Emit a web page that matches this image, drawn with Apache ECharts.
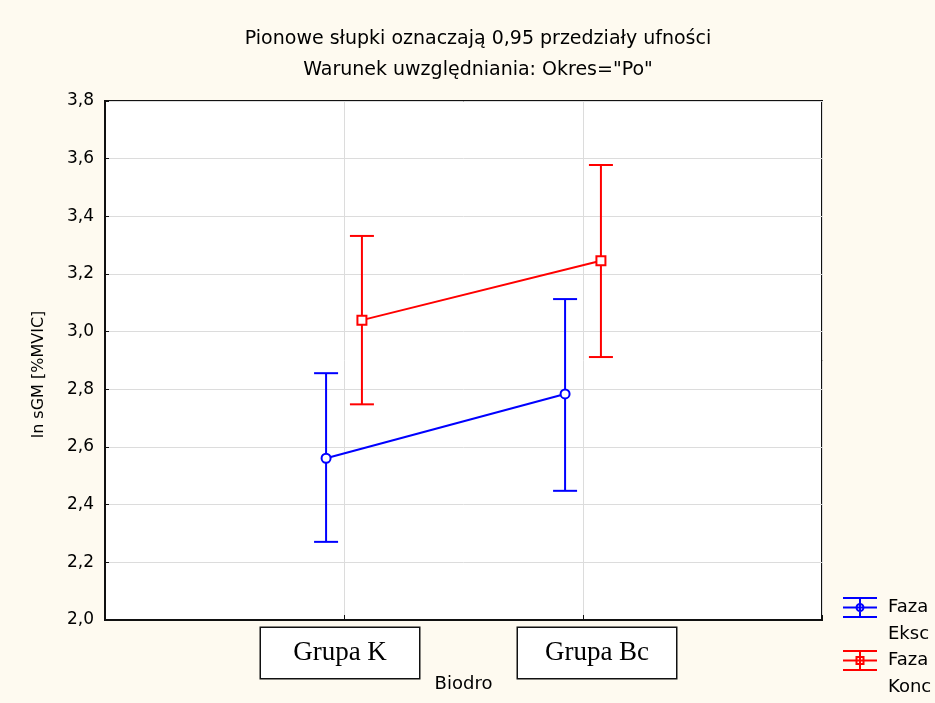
<!DOCTYPE html>
<html>
<head>
<meta charset="utf-8">
<script src="https://cdn.jsdelivr.net/npm/echarts@6/dist/echarts.min.js"></script>
<style>
html,body{margin:0;padding:0;background:#fefaf0;}
#chart{width:935px;height:703px;}
</style>
</head>
<body>
<div id="chart"></div>
<script>
// ---- data ----
const categories = ['Grupa K', 'Grupa Bc'];
const seriesNames = ['Faza\nEksc', 'Faza\nKonc'];
const eksMean = [2.561, 2.784];
const eksLow  = [2.271, 2.448];
const eksHigh = [2.856, 3.113];
const koncMean = [3.040, 3.246];
const koncLow  = [2.748, 2.912];
const koncHigh = [3.332, 3.578];
const yMin = 2.0, yMax = 3.8, yStep = 0.2;
const titleLines = ['Pionowe słupki oznaczają 0,95 przedziały ufności', 'Warunek uwzględniania: Okres="Po"'];
const xName = 'Biodro';
const yName = 'ln sGM [%MVIC]';

// ---- layout helpers ----
const OFFSET = 0.075;
const FONT = 'DejaVu Sans';
const BLUE = '#0000ff', RED = '#ff0000';

function pts(means, shift) { return means.map((v, i) => [i + 1 + shift, v]); }
function bars(lo, hi, shift) { return lo.map((v, i) => [i + 1 + shift, v, hi[i]]); }

function renderItem(params, api) {
  const x = api.value(0), lo = api.value(1), hi = api.value(2);
  const t = api.coord([x, hi]), b = api.coord([x, lo]);
  const hw = 12;
  const style = { stroke: api.visual('color'), lineWidth: 2 };
  return { type: 'group', children: [
    { type: 'line', shape: { x1: t[0], y1: t[1], x2: b[0], y2: b[1] }, style },
    { type: 'line', shape: { x1: t[0] - hw, y1: t[1], x2: t[0] + hw, y2: t[1] }, style },
    { type: 'line', shape: { x1: b[0] - hw, y1: b[1], x2: b[0] + hw, y2: b[1] }, style }
  ]};
}

const iconCircle = 'path://M0 0H34V2H0Z M0 19H34V21H0Z M0 9.5H34V11.5H0Z M16 0H18V21H16Z ' +
  'M21.5 10.5A4.5 4.5 0 1 1 12.5 10.5A4.5 4.5 0 1 1 21.5 10.5Z M19.5 10.5A2.5 2.5 0 1 0 14.5 10.5A2.5 2.5 0 1 0 19.5 10.5Z';
const iconRect = 'path://M0 0H34V2H0Z M0 19H34V21H0Z M0 9.5H34V11.5H0Z M16 0H18V21H16Z ' +
  'M12.5 6H21.5V15H12.5Z M14.5 13H19.5V8H14.5Z';

const legendText = { fontFamily: FONT, fontSize: 18, color: '#000', lineHeight: 27, padding: [0, 0, 0, 6] };
const legendFormatter = n => ' \n' + n;

const chart = echarts.init(document.getElementById('chart'));
chart.setOption({
  backgroundColor: '#fefaf0',
  animation: false,
  title: titleLines.map((t, i) => ({
    text: t, left: 478, top: 30 + i * 31, textAlign: 'center', padding: 0,
    textStyle: { fontFamily: FONT, fontSize: 19, fontWeight: 'normal', color: '#000' }
  })),
  legend: [
    { data: [{ name: seriesNames[0], icon: iconCircle, itemStyle: { color: BLUE, borderWidth: 0 } }],
      left: 843, top: 567, padding: 0, itemWidth: 34, itemHeight: 21, selectedMode: false,
      formatter: legendFormatter, textStyle: legendText },
    { data: [{ name: seriesNames[1], icon: iconRect, itemStyle: { color: RED, borderWidth: 0 } }],
      left: 843, top: 620, padding: 0, itemWidth: 34, itemHeight: 21, selectedMode: false,
      formatter: legendFormatter, textStyle: legendText }
  ],
  grid: { left: 105, right: 113, top: 101, bottom: 83, containLabel: false, outerBoundsMode: 'none',
          show: true, backgroundColor: '#fff', borderColor: '#111', borderWidth: 2 },
  xAxis: {
    type: 'value', min: 0, max: 3, interval: 1,
    name: xName, nameLocation: 'middle', nameGap: 55, nameMoveOverlap: false,
    nameTextStyle: { fontFamily: FONT, fontSize: 18, color: '#000' },
    axisLine: { show: true, lineStyle: { color: '#111', width: 2 } },
    axisTick: { show: true, inside: true, length: 5, lineStyle: { color: '#111' } },
    splitLine: { show: true, lineStyle: { color: '#dcdcdc', width: 1 } },
    axisLabel: {
      margin: 8,
      formatter: function (v) {
        const k = Math.round(v);
        if (k === 1) return '{b|' + categories[0] + '}{s|}';
        if (k === 2) return '{s2|}{b|' + categories[1] + '}';
        return '';
      },
      rich: {
        b: { fontFamily: 'Liberation Serif', fontSize: 27, color: '#000', backgroundColor: '#fff',
             borderColor: '#111', borderWidth: 1.5, width: 158, height: 50, lineHeight: 50, align: 'center' },
        s: { width: 8 },
        s2: { width: 28 }
      }
    }
  },
  yAxis: {
    type: 'value', min: yMin, max: yMax, interval: yStep,
    name: yName, nameLocation: 'middle', nameRotate: 90, nameGap: 58, nameMoveOverlap: false,
    nameTextStyle: { fontFamily: FONT, fontSize: 16, color: '#000', padding: [0, 28, 0, 0] },
    axisLine: { show: true, lineStyle: { color: '#111', width: 2 } },
    axisTick: { show: true, inside: true, length: 4, lineStyle: { color: '#111' } },
    splitLine: { show: true, lineStyle: { color: '#dcdcdc', width: 1 } },
    axisLabel: { margin: 11, fontFamily: FONT, fontSize: 17, color: '#000',
      formatter: v => v.toFixed(1).replace('.', ',') }
  },
  series: [
    { name: seriesNames[0], type: 'custom', renderItem, itemStyle: { color: BLUE },
      encode: { x: 0, y: [1, 2] }, data: bars(eksLow, eksHigh, -OFFSET), z: 2 },
    { name: seriesNames[1], type: 'custom', renderItem, itemStyle: { color: RED },
      encode: { x: 0, y: [1, 2] }, data: bars(koncLow, koncHigh, OFFSET), z: 2 },
    { name: seriesNames[0], type: 'line', data: pts(eksMean, -OFFSET), symbol: 'emptyCircle', symbolSize: 9,
      lineStyle: { color: BLUE, width: 2 }, itemStyle: { color: BLUE, borderWidth: 2 }, z: 3 },
    { name: seriesNames[1], type: 'line', data: pts(koncMean, OFFSET), symbol: 'emptyRect', symbolSize: 9,
      lineStyle: { color: RED, width: 2 }, itemStyle: { color: RED, borderWidth: 2 }, z: 3 }
  ]
});
</script>
</body>
</html>
